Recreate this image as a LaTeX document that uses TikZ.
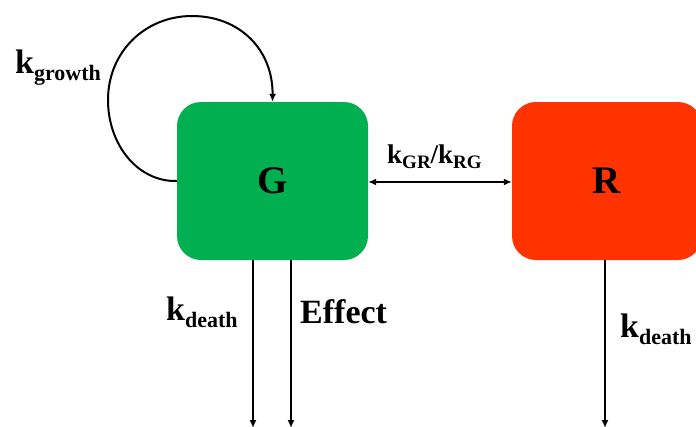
\documentclass[tikz,border=0pt]{standalone}
\usepackage{fontspec}
\setmainfont{Liberation Serif}
\usetikzlibrary{arrows.meta}
\definecolor{gbox}{HTML}{00B050}
\definecolor{rbox}{HTML}{FF3300}
\newcommand\kbig[1]{{\fontsize{34}{36}\selectfont\bfseries k\raisebox{-7pt}{\fontsize{22}{24}\selectfont #1}}}
\newcommand\ksmall[1]{{\fontsize{27}{29}\selectfont\bfseries k\raisebox{-5pt}{\fontsize{19}{21}\selectfont #1}}}
\begin{document}
\begin{tikzpicture}[x=1pt,y=-1pt,
  box/.style={rounded corners=24pt, minimum width=191pt, minimum height=158pt, inner sep=0pt, font=\fontsize{39}{41}\selectfont\bfseries},
  conn/.style={line width=2pt, -{Latex[length=8pt,width=7pt]}},
  lbl/.style={inner sep=0pt, anchor=base west}]
\useasboundingbox (0,0) rectangle (696,426);
\node[box, fill=gbox] (G) at (272.5,181) {G};
\node[box, fill=rbox, minimum width=190pt] (R) at (607,181) {R};
% growth loop
\draw[conn] (G.west) .. controls (138,182) and (108,145) .. (108,100)
  .. controls (108,52) and (145,16) .. (192,16)
  .. controls (240,16) and (273,50) .. (G.north);
\node[lbl] (kg) at (15,73) {\kbig{growth}};
% exchange
\draw[line width=2pt, {Latex[length=8pt,width=7pt]}-{Latex[length=8pt,width=7pt]}] (G.east |- 0,182) -- (R.west |- 0,182);
\node[lbl] (kgr) at (387,163) {\ksmall{GR}{\fontsize{27}{29}\selectfont\bfseries/}\ksmall{RG}};
% outflows
\coordinate (d1) at (253,428);
\coordinate (d2) at (291,428);
\coordinate (d3) at (605,428);
\draw[conn] (G.south -| d1) -- (d1);
\draw[conn] (G.south -| d2) -- (d2);
\draw[conn] (R.south -| d3) -- (d3);
\node[lbl] (kd1) at (166,320) {\kbig{death}};
\node[lbl, font=\fontsize{34}{36}\selectfont\bfseries] (eff) at (300,323) {Effect};
\node[lbl] (kd2) at (620,337) {\kbig{death}};
\end{tikzpicture}
\end{document}
